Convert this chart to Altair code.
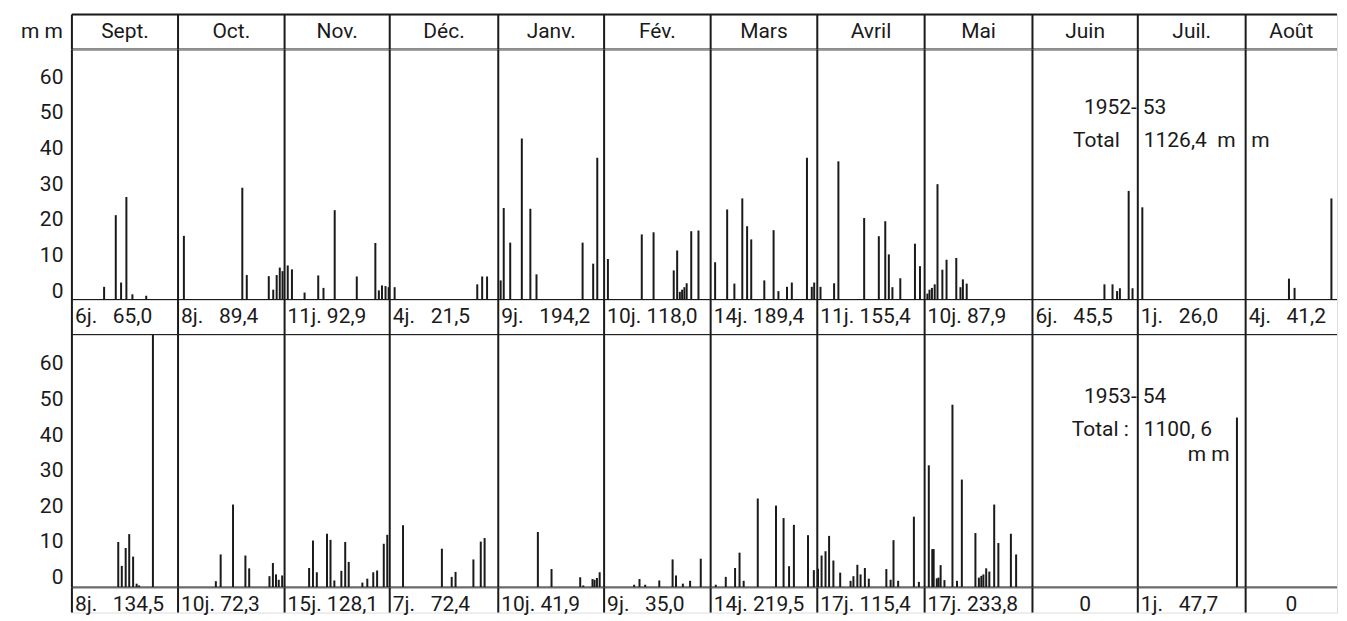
import altair as alt
import pandas as pd

INK = "#1a1a1a"
FONT = "Roboto"
FS = 21

months = ["Sept.", "Oct.", "Nov.", "Déc.", "Janv.", "Fév.", "Mars", "Avril", "Mai", "Juin", "Juil.", "Août"]
ndays = [30, 31, 30, 31, 31, 28, 31, 30, 31, 30, 31, 31]

# ---- 1952-53 : day position in month, daily rainfall (mm) ----
day_1952 = [
    [9.1, 12.4, 13.9, 15.4, 17.1, 21.0],
    [1.7, 18.7, 20.0, 26.4, 27.7, 28.7, 29.6, 30.4],
    [0.9, 2.1, 5.7, 9.6, 11.1, 14.3, 20.6, 25.9, 26.9, 27.8, 28.8, 29.7],
    [1.4, 25.0, 26.4, 27.8],
    [0.7, 1.6, 3.5, 6.9, 9.4, 11.2, 24.7, 27.8, 29.0],
    [1.0, 9.9, 13.0, 18.3, 19.2, 19.9, 20.5, 21.1, 21.7, 22.9, 24.8],
    [1.3, 4.8, 6.9, 9.2, 10.6, 11.8, 15.6, 18.3, 19.7, 22.2, 23.6, 28.0, 29.4, 30.1],
    [0.9, 4.7, 5.9, 13.1, 17.2, 19.0, 20.0, 21.0, 23.2, 27.3, 28.7],
    [0.8, 1.4, 2.1, 2.9, 3.7, 5.1, 6.3, 9.1, 10.3, 11.0, 12.1],
    [20.5, 22.8, 24.1, 24.9, 27.4, 28.5],
    [1.3],
    [14.7, 16.6, 29.1],
]
rain_1952 = [
    [3.7, 23.8, 4.9, 28.9, 1.6, 1.2],
    [18.0, 31.5, 7.0, 6.7, 2.9, 7.0, 9.1, 8.1],
    [9.7, 8.6, 2.1, 6.9, 3.4, 25.2, 6.6, 16.0, 2.7, 4.1, 3.9, 3.6],
    [3.6, 4.4, 6.6, 6.6],
    [5.5, 25.8, 16.1, 45.3, 25.6, 7.2, 16.1, 10.2, 39.9],
    [11.5, 18.4, 19.0, 8.3, 13.9, 2.3, 2.9, 3.6, 4.7, 19.3, 19.5],
    [10.6, 25.4, 4.6, 28.5, 20.7, 17.0, 5.5, 19.6, 2.5, 3.7, 4.9, 39.9, 3.7, 4.9],
    [3.7, 4.7, 38.9, 23.0, 17.9, 22.1, 12.8, 3.6, 6.1, 15.8, 9.5],
    [1.8, 2.9, 3.4, 4.4, 32.5, 8.5, 11.3, 11.8, 3.6, 5.8, 4.6],
    [4.4, 4.4, 2.5, 3.3, 30.6, 3.3],
    [26.0],
    [6.0, 3.4, 28.5],
]

# ---- 1953-54 ----
day_1953 = [
    [13.1, 14.1, 15.2, 16.2, 17.3, 18.3, 19.0, 22.9],
    [11.0, 12.4, 16.0, 19.6, 20.7, 26.6, 27.6, 28.5, 29.3, 30.3],
    [7.0, 8.1, 9.2, 12.1, 13.1, 14.2, 16.2, 17.3, 18.3, 22.2, 23.6, 25.3, 26.4, 28.3, 29.3],
    [3.8, 14.9, 17.7, 18.8, 23.9, 26.0, 27.1],
    [11.6, 15.6, 24.0, 24.9, 27.6, 28.2, 28.9, 29.7],
    [7.9, 9.3, 10.8, 14.5, 18.0, 18.9, 20.7, 22.6, 25.4],
    [1.5, 4.4, 7.1, 8.4, 9.6, 13.7, 19.0, 21.2, 22.8, 24.2, 28.3, 30.0],
    [0.2, 1.2, 2.3, 3.3, 4.5, 6.4, 9.3, 10.1, 11.2, 12.1, 13.3, 14.4, 19.3, 20.5, 21.3, 22.6, 27.0, 28.4],
    [1.2, 2.2, 2.6, 3.5, 4.0, 4.6, 5.7, 8.0, 9.3, 10.7, 14.6, 15.6, 16.3, 16.9, 17.7, 18.6, 20.0, 21.2, 24.8, 26.3],
    [],
    [28.5],
    [],
]
rain_1953 = [
    [12.8, 6.1, 11.1, 15.0, 8.7, 1.1, 0.6, 79.1],
    [1.8, 9.3, 23.3, 9.0, 5.4, 3.2, 6.9, 3.7, 2.2, 3.4],
    [5.5, 13.2, 4.3, 15.1, 13.4, 2.0, 4.7, 12.8, 7.2, 1.4, 2.5, 4.3, 4.8, 12.3, 14.8],
    [17.5, 10.9, 3.0, 4.4, 7.9, 12.9, 13.9],
    [15.6, 5.2, 2.9, 0.6, 2.4, 2.2, 2.7, 4.3],
    [0.8, 2.4, 0.8, 2.0, 7.9, 3.4, 1.1, 1.9, 8.1],
    [0.8, 3.0, 5.5, 9.8, 1.9, 25.0, 23.0, 19.5, 6.0, 17.6, 14.7, 4.9],
    [5.3, 9.0, 10.2, 14.5, 7.6, 4.2, 1.9, 3.2, 6.4, 3.7, 5.5, 2.5, 5.2, 2.2, 13.3, 1.9, 19.9, 1.6],
    [34.3, 10.8, 10.8, 2.6, 2.8, 6.3, 2.1, 51.3, 1.9, 30.3, 15.3, 2.8, 3.3, 3.7, 5.4, 4.5, 23.3, 12.5, 15.1, 9.3],
    [],
    [47.7],
    [],
]

# ---- monthly summaries ----
days_1952 = [6, 8, 11, 4, 9, 10, 14, 11, 10, 6, 1, 4]
total_1952 = [65.0, 89.4, 92.9, 21.5, 194.2, 118.0, 189.4, 155.4, 87.9, 45.5, 26.0, 41.2]
days_1953 = [8, 10, 15, 7, 10, 9, 14, 17, 17, 0, 1, 0]
total_1953 = [134.5, 72.3, 128.1, 72.4, 41.9, 35.0, 219.5, 115.4, 233.8, 0.0, 47.7, 0.0]

y_ticks = [0, 10, 20, 30, 40, 50, 60]

# ---- layout: hand-drawn month columns (pixel widths), August cut by the sheet edge ----
W = 1267
col_edges = [0, 106.3, 213, 318.3, 427, 533, 639.7, 746.5, 854, 962, 1067.5, 1175.5, W]
xscale = alt.Scale(domain=list(range(13)), range=col_edges, nice=False, zero=False)


def X(f):
    return alt.X(f, scale=xscale, axis=None)


bounds_df = pd.DataFrame({"b": list(range(12))})
row_y = alt.Scale(domain=[0, 1], nice=False)


def separators():
    return alt.Chart(bounds_df).mark_rule(color=INK, strokeWidth=2).encode(x=X("b:Q"))


def hlines(vals):
    return alt.Chart(pd.DataFrame({"v": vals})).mark_rule(color=INK, strokeWidth=2).encode(
        y=alt.Y("v:Q", scale=row_y, axis=None))


def row_text(rows, align, dx):
    return alt.Chart(pd.DataFrame(rows)).mark_text(
        font=FONT, fontSize=FS, color=INK, align=align, baseline="middle", dx=dx
    ).encode(x=X("c:Q"), y=alt.Y("ty:Q", scale=row_y, axis=None), text="t:N")


def fmt(v):
    return f"{v:.1f}".replace(".", ",")


# header row
header = alt.layer(
    row_text([{"c": i + 0.5, "t": m, "ty": 0.5} for i, m in enumerate(months)], "center", 0),
    row_text([{"c": 0, "t": "m m", "ty": 0.5}], "right", -9),
    separators(),
    hlines([0, 1]),
).properties(width=W, height=35)


def totals_row(days, totals, lines, height, ty):
    left, center = [], []
    for m, (d, t) in enumerate(zip(days, totals)):
        if d == 0:
            center.append({"c": m + 0.5, "t": "0", "ty": ty})
        else:
            sp = "\u00a0\u00a0\u00a0" if d < 10 else "\u00a0"
            left.append({"c": m, "t": f"{d}j.{sp}{fmt(t)}", "ty": ty})
    layers = [row_text(left, "left", 3)]
    if center:
        layers.append(row_text(center, "center", 0))
    layers += [separators(), hlines(lines)]
    return alt.layer(*layers).properties(width=W, height=height)


def panel(day_lists, rain_lists, ymax, height, lab_off, notes):
    rows = []
    for m, (ds, rs) in enumerate(zip(day_lists, rain_lists)):
        for d, r in zip(ds, rs):
            rows.append({"pos": m + d / ndays[m], "mm": r})
    df = pd.DataFrame(rows)
    yscale = alt.Scale(domain=[0, ymax], clamp=True, nice=False)
    yax = alt.Axis(values=y_ticks, labelOffset=lab_off, domain=False, ticks=False, grid=False,
                   labelPadding=9, minExtent=63, maxExtent=63, title=None,
                   labelFont=FONT, labelFontSize=FS, labelColor=INK)
    bars = alt.Chart(df).mark_rule(color=INK, strokeWidth=2).encode(
        x=X("pos:Q"), y=alt.Y("mm:Q", scale=yscale, axis=yax), y2=alt.datum(0))
    base = alt.Chart(pd.DataFrame({"v": [0]})).mark_rule(color=INK, strokeWidth=2).encode(
        y=alt.Y("v:Q", scale=yscale, axis=yax))
    layers = [separators(), base, bars]
    for n in notes:
        layers.append(
            alt.Chart(pd.DataFrame([{"c": n[0], "y": n[1], "t": n[2]}])).mark_text(
                font=FONT, fontSize=FS, color=INK, align=n[3], baseline="middle", dx=n[4]
            ).encode(x=X("c:Q"), y=alt.Y("y:Q", scale=yscale, axis=yax), text="t:N")
        )
    return alt.layer(*layers).properties(width=W, height=height)


notes_1952 = [
    (10, 53.8, "1952-", "right", -1),
    (10, 53.8, "53", "left", 5),
    (10, 44.5, "Total", "right", -18),
    (10, 44.5, "1126,4\u00a0\u00a0m\u00a0\u00a0\u00a0m", "left", 6),
]
notes_1953 = [
    (10, 53.6, "1953-", "right", -1),
    (10, 53.6, "54", "left", 5),
    (10, 44.1, "Total :", "right", -9),
    (10, 44.1, "1100, 6", "left", 6),
    (11, 37.1, "m m", "right", -16),
]

p1 = panel(day_1952, rain_1952, 70.3, 251, -9, notes_1952)
t1 = totals_row(days_1952, total_1952, [0], 35, 0.5)
p2 = panel(day_1953, rain_1953, 70.87, 253, -10, notes_1953)
t2 = totals_row(days_1953, total_1953, [], 25, 0.32)

chart = alt.vconcat(header, p1, t1, p2, t2, spacing=0, bounds="flush").properties(
    padding={"left": 0, "top": 4, "right": 0, "bottom": 0}
).configure_view(stroke="transparent").configure(font=FONT, background="white")

chart.save("out.html", embed_options={"renderer": "svg", "actions": False})
